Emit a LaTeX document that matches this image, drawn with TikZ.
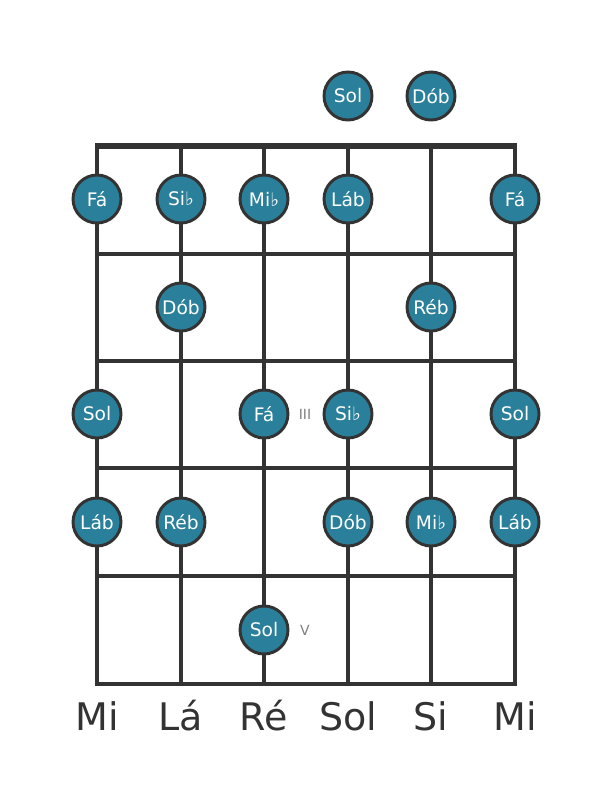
\documentclass[tikz,border=0pt]{standalone}
\usepackage{fontspec}
\setmainfont{DejaVu Sans}
\definecolor{notefill}{HTML}{2A7F9A}
\definecolor{linegray}{HTML}{333333}
\tikzset{
  note/.style={circle,draw=linegray,line width=2.2pt,fill=notefill,text=white,
    minimum size=36pt,inner sep=0pt,font=\fontsize{14}{14}\selectfont},
  fretline/.style={linegray,line width=3.2pt},
  stringline/.style={linegray,line width=2.4pt},
  strname/.style={text=linegray,font=\fontsize{28.5}{28.5}\selectfont},
  fretmark/.style={text=gray,font=\fontsize{10.5}{10.5}\selectfont}
}
\begin{document}
\begin{tikzpicture}[x=0.75pt,y=-0.75pt]
\useasboundingbox (0,0) rectangle (611,801);
% strings
\draw [stringline] (97,146)--(97,684);
\draw [stringline] (181,146)--(181,684);
\draw [stringline] (264,146)--(264,684);
\draw [stringline] (348,146)--(348,684);
\draw [stringline] (431,146)--(431,684);
\draw [stringline] (515,146)--(515,684);
% frets
\draw [fretline,line width=3.8pt] (95,146)--(517,146);
\draw [fretline] (95,254)--(517,254);
\draw [fretline] (95,361)--(517,361);
\draw [fretline] (95,468)--(517,468);
\draw [fretline] (95,576)--(517,576);
\draw [fretline] (95,684)--(517,684);
% open strings
\node [note] (o4) at (348,96){Sol};
\node [note] (o5) at (431,96){Dób};
% fret 1
\node [note] (a1) at (97,199){Fá};
\node [note] (a2) at (181,199){Si♭};
\node [note] (a3) at (264,199){Mi♭};
\node [note] (a4) at (348,199){Láb};
\node [note] (a6) at (515,199){Fá};
% fret 2
\node [note] (b2) at (181,307){Dób};
\node [note] (b5) at (431,307){Réb};
% fret 3
\node [note] (c1) at (97,414){Sol};
\node [note] (c3) at (264,414){Fá};
\node [note] (c4) at (348,414){Si♭};
\node [note] (c6) at (515,414){Sol};
\node [fretmark] (m3) at (305,414){III};
% fret 4
\node [note] (d1) at (97,522){Láb};
\node [note] (d2) at (181,522){Réb};
\node [note] (d4) at (348,522){Dób};
\node [note] (d5) at (431,522){Mi♭};
\node [note] (d6) at (515,522){Láb};
% fret 5
\node [note] (e3) at (264,630){Sol};
\node [fretmark] (m5) at (305,630){V};
% string names
\node [strname] (s1) at (97,716){Mi};
\node [strname] (s2) at (181,716){Lá};
\node [strname] (s3) at (264,716){Ré};
\node [strname] (s4) at (348,716){Sol};
\node [strname] (s5) at (431,716){Si};
\node [strname] (s6) at (515,716){Mi};
\end{tikzpicture}
\end{document}
